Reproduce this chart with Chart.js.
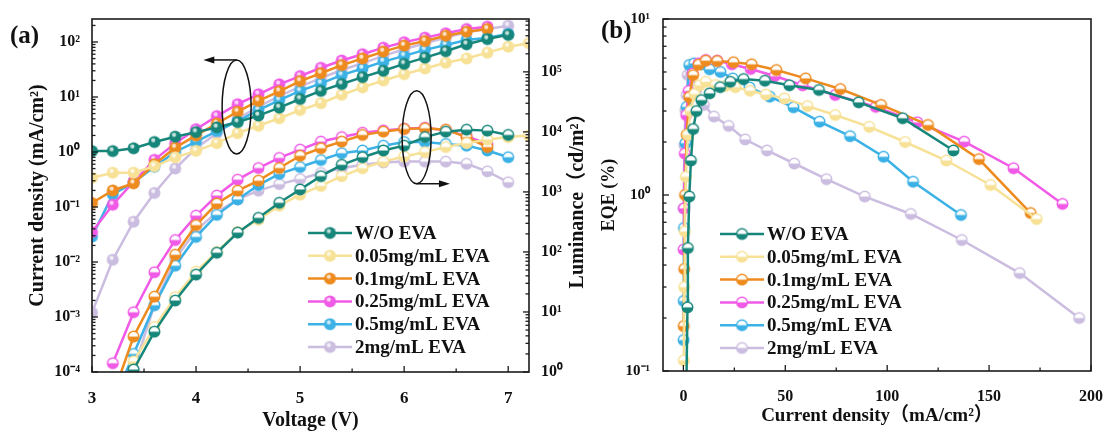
<!DOCTYPE html>
<html>
<head>
<meta charset="utf-8">
<script src="https://cdn.jsdelivr.net/npm/chart.js@4.4.0/dist/chart.umd.min.js"></script>
<style>
  html, body { margin: 0; padding: 0; background: #fff; }
  #wrap { position: relative; width: 1111px; height: 436px; overflow: hidden; }
  .panel { position: absolute; top: 0; height: 436px; }
</style>
</head>
<body>
<div id="wrap">
  <div class="panel" style="left:0;width:595px"><canvas id="ivl"></canvas></div>
  <div class="panel" style="left:595px;width:516px"><canvas id="eqe"></canvas></div>
</div>
<script>
// voltage sweep (V)
var voltage = [3.0, 3.2, 3.4, 3.6, 3.8, 4.0, 4.2, 4.4, 4.6, 4.8, 5.0, 5.2, 5.4, 5.6, 5.8, 6.0, 6.2, 6.4, 6.6, 6.8, 7.0, 7.2];
var seriesNames = ['W/O EVA', '0.05mg/mL EVA', '0.1mg/mL EVA', '0.25mg/mL EVA', '0.5mg/mL EVA', '2mg/mL EVA'];
var seriesColors = ['#17867a', '#f7e196', '#ee8b1f', '#f05ae6', '#3bb1e6', '#cbbde0'];

// x-axis tick positions (labels only on the whole numbers / multiples of 50)
var voltTicks = [3, 3.5, 4, 4.5, 5, 5.5, 6, 6.5, 7];
var eqeCurrentTicks = [0, 25, 50, 75, 100, 125, 150, 175, 200];

// current density (mA/cm2)
var jWo  = [1.04, 1.04, 1.17, 1.52, 1.9, 2.3, 2.8, 3.5, 4.6, 6.4, 9.2, 12.9, 17.2, 23, 30, 40, 52, 68, 91, 113, 135];
var j005 = [0.34, 0.42, 0.42, 0.55, 0.8, 1.05, 1.45, 2.2, 3.0, 4.1, 5.8, 7.7, 11, 15, 20, 26, 33, 42, 50, 64, 82, 95];
var j01  = [0.118, 0.2, 0.27, 0.6, 1.2, 2.0, 3.3, 5.4, 8.5, 12.7, 19.5, 27, 38, 50, 67, 86, 104, 130, 154, 172];
var j025 = [0.035, 0.11, 0.29, 0.72, 1.44, 2.6, 4.5, 7.4, 11.2, 17, 24, 34, 46, 60, 79, 99, 120, 144, 172, 190];
var j05  = [0.029, 0.17, 0.28, 0.54, 1.0, 1.55, 2.4, 3.6, 5.8, 8.8, 12.9, 17.7, 25, 33, 44, 56, 72, 88, 109, 120, 140];
var j2   = [0.0012, 0.011, 0.054, 0.18, 0.5, 1.17, 2.2, 4.0, 6.7, 10.4, 15.5, 22, 31, 41, 56, 74, 95, 120, 150, 172, 198];

// luminance (cd/m2), nothing measured at 3.0 V
var lWo  = [null, 0.1, 1.1, 4.7, 15.5, 42, 97, 210, 370, 660, 1100, 1830, 2830, 3790, 4900, 5900, 8200, 10100, 10900, 10500, 8900];
var l005 = [null, 0.15, 1.5, 5.6, 17.6, 47, 100, 215, 345, 590, 900, 1260, 1830, 2480, 3200, 3900, 4600, 5600, 6500, 7500, 8200, 8700];
var l01  = [null, 0.4, 3.9, 18, 90, 280, 640, 1050, 1540, 2500, 4000, 5350, 6900, 8900, 10100, 11200, 11500, 10900, 8200, 5600];
var l025 = [null, 1.4, 9.9, 46, 158, 403, 870, 1600, 2500, 3690, 5070, 6900, 8200, 9700, 10600, 11300, 11700, 10700, 8500, 6300];
var l05  = [null, 0.3, 2.0, 13, 59, 178, 415, 750, 1300, 2000, 2600, 3400, 4420, 4900, 5900, 6800, 6800, 6300, 5900, 4900, 3790];
var l2   = [null, 0.1, 1.1, 13, 76, 230, 460, 750, 1050, 1350, 1640, 2070, 2480, 2830, 3100, 3200, 3200, 3200, 2940, 2200, 1450];

// EQE (%) against current density (mA/cm2)
var eqeJWo  = [1.4, 2.0, 2.2, 2.9, 3.7, 4.8, 6.4, 8.8, 12.9, 18, 23, 29.5, 40, 52, 66.5, 86, 107.6, 132.5];
var eqeWo   = [0.07, 0.23, 0.5, 0.98, 1.57, 2.37, 3.0, 3.46, 3.78, 4.1, 4.4, 4.56, 4.46, 4.2, 3.95, 3.36, 2.73, 1.79];
var eqeJ005 = [0.2, 0.4, 0.7, 1.2, 2.2, 3.5, 5.5, 8, 11, 15.8, 20.6, 25.5, 32.7, 40.5, 49.6, 60.9, 74.5, 91.2, 108.8, 129, 150.7, 173.3];
var eqe005  = [0.115, 0.3, 0.62, 1.27, 2.2, 3.0, 3.75, 4.2, 4.4, 4.22, 4.16, 4.1, 3.91, 3.72, 3.54, 3.2, 2.85, 2.44, 2.0, 1.57, 1.14, 0.73];
var eqeJ01  = [0.15, 0.4, 0.8, 1.6, 2.9, 4.8, 7.5, 11, 16.6, 24.6, 33.5, 45.6, 60, 77, 97, 120, 145, 170.4];
var eqe01   = [0.18, 0.38, 1.0, 2.2, 3.6, 4.8, 5.5, 5.8, 5.77, 5.68, 5.53, 5.13, 4.6, 4.0, 3.25, 2.5, 1.6, 0.79];
var eqeJ025 = [0.1, 0.3, 0.7, 1.4, 2.6, 4.5, 7.4, 11, 16.6, 23.8, 33, 44.8, 58.5, 74.5, 94.4, 114.8, 137.8, 162, 186];
var eqe025  = [0.49, 0.84, 1.72, 2.85, 3.9, 4.9, 5.6, 5.85, 5.8, 5.53, 5.2, 4.74, 4.2, 3.7, 3.17, 2.59, 2.01, 1.42, 0.89];
var eqeJ05  = [0.1, 0.15, 0.3, 1.0, 1.6, 2.9, 5.3, 9.0, 12.9, 18.2, 24.2, 32.5, 42.4, 54, 66.8, 81.8, 98.2, 112.7, 136.2];
var eqe05   = [0.15, 0.25, 0.65, 1.97, 3.17, 5.48, 5.6, 5.53, 5.18, 5.0, 4.6, 4.09, 3.62, 3.15, 2.61, 2.16, 1.65, 1.19, 0.77];
var eqeJ2   = [0.05, 0.5, 1.0, 1.6, 2.1, 3.7, 6.4, 10.1, 15, 22.2, 30.3, 41, 54.4, 70.2, 89, 111.6, 136.6, 165, 194.2];
var eqe2    = [0.84, 1.92, 3.04, 3.7, 4.81, 5.02, 3.98, 3.25, 2.79, 2.47, 2.07, 1.79, 1.51, 1.23, 0.98, 0.78, 0.555, 0.36, 0.2];

var currentSets = [jWo, j005, j01, j025, j05, j2];
var lumSets = [lWo, l005, l01, l025, l05, l2];
var eqeXSets = [eqeJWo, eqeJ005, eqeJ01, eqeJ025, eqeJ05, eqeJ2];
var eqeYSets = [eqeWo, eqe005, eqe01, eqe025, eqe05, eqe2];

var SERIF = '"Liberation Serif", "Times New Roman", "Noto Sans CJK SC", serif';
Chart.defaults.font.family = SERIF;
Chart.defaults.font.weight = 'bold';
Chart.defaults.color = '#111';

function pairs(xs, ys) {
  var out = [];
  ys.forEach(function (y, i) { if (y != null) out.push({ x: xs[i], y: y }); });
  return out;
}

// round symbols: glossy ball, or half-filled (white top, coloured bottom)
function makeMarker(color, kind) {
  var r = 6, c = document.createElement('canvas');
  c.width = c.height = 2 * r + 3;
  var g = c.getContext('2d'), m = c.width / 2;
  if (kind === 'ball') {
    g.beginPath(); g.arc(m, m, r, 0, 2 * Math.PI); g.fillStyle = color; g.fill();
    g.beginPath(); g.arc(m - 1.2, m - 1.8, 2.1, 0, 2 * Math.PI); g.fillStyle = 'rgba(255,255,255,0.75)'; g.fill();
  } else {
    g.beginPath(); g.arc(m, m, r - 0.7, 0, 2 * Math.PI); g.fillStyle = '#fff'; g.fill();
    g.beginPath(); g.arc(m, m, r - 0.7, 0, Math.PI); g.closePath(); g.fillStyle = color; g.fill();
    g.beginPath(); g.arc(m, m, r - 0.7, 0, 2 * Math.PI); g.strokeStyle = color; g.lineWidth = 1.4; g.stroke();
  }
  return c;
}

var SUP = { '-': '⁻', '0': '⁰', '1': '¹', '2': '²', '3': '³', '4': '⁴', '5': '⁵', '6': '⁶', '7': '⁷', '8': '⁸', '9': '⁹' };
function powerLabel(v) {
  var e = Math.log10(v);
  if (Math.abs(e - Math.round(e)) > 1e-6) return '';
  return '10' + String(Math.round(e)).split('').map(function (ch) { return SUP[ch]; }).join('');
}

function near(v, step) { return Math.abs(v / step - Math.round(v / step)) < 1e-6; }

// inward ticks and the box around the plot area
var frameTicks = {
  id: 'frameTicks',
  afterDatasetsDraw: function (chart, args, opts) {
    var ctx = chart.ctx, a = chart.chartArea;
    ctx.save();
    ctx.strokeStyle = '#1b1b1b';
    ctx.lineWidth = 1.6;
    ctx.strokeRect(a.left, a.top, a.right - a.left, a.bottom - a.top);
    ctx.lineWidth = 1.3;
    Object.keys(chart.scales).forEach(function (id) {
      var s = chart.scales[id];
      s.ticks.forEach(function (t) {
        var v = t.value, kind = null;
        if (s.type === 'logarithmic') {
          var mant = v / Math.pow(10, Math.floor(Math.log10(v) + 1e-9));
          if (Math.abs(mant - 1) < 1e-6) kind = 'major';
          else if (near(mant, 1)) kind = 'minor';
        } else {
          kind = near(v, opts.major[id]) ? 'major' : 'minor';
        }
        if (!kind) return;
        var len = kind === 'major' ? 6 : 3.5, p = s.getPixelForValue(v);
        ctx.beginPath();
        if (s.position === 'bottom') { ctx.moveTo(p, a.bottom); ctx.lineTo(p, a.bottom - len); }
        else if (s.position === 'left') { ctx.moveTo(a.left, p); ctx.lineTo(a.left + len, p); }
        else { ctx.moveTo(a.right, p); ctx.lineTo(a.right - len, p); }
        ctx.stroke();
      });
    });
    ctx.restore();
  }
};

// legend drawn inside the plot area
var legendBox = {
  id: 'legendBox',
  afterDraw: function (chart, args, opts) {
    var ctx = chart.ctx, a = chart.chartArea;
    var x0 = a.left + opts.dx, y0 = a.top + opts.dy;
    ctx.save();
    ctx.font = 'bold 19px ' + SERIF;
    ctx.textBaseline = 'middle';
    ctx.fillStyle = '#111';
    chart.data.datasets.slice(0, 6).forEach(function (ds, i) {
      var y = y0 + i * 22.8;
      ctx.strokeStyle = ds.borderColor;
      ctx.lineWidth = 2.5;
      ctx.beginPath(); ctx.moveTo(x0, y); ctx.lineTo(x0 + 44, y); ctx.stroke();
      var img = ds.pointStyle;
      ctx.drawImage(img, x0 + 22 - img.width / 2, y - img.height / 2);
      ctx.fillText(ds.label, x0 + 47, y + 1);
    });
    ctx.restore();
  }
};

// ellipse + arrow pointing each curve family to its axis
var loopArrows = {
  id: 'loopArrows',
  afterDatasetsDraw: function (chart, args, opts) {
    var ctx = chart.ctx, xs = chart.scales.x;
    ctx.save();
    ctx.strokeStyle = '#111'; ctx.fillStyle = '#111'; ctx.lineWidth = 1.5;
    opts.loops.forEach(function (l) {
      var cx = xs.getPixelForValue(l.v), cy = chart.scales[l.axis].getPixelForValue(l.at);
      ctx.beginPath(); ctx.ellipse(cx, cy, l.rx, l.ry, 0, 0, 2 * Math.PI); ctx.stroke();
      var ey = l.from === 'top' ? cy - l.ry : cy + l.ry;
      var tx = xs.getPixelForValue(l.to), dir = tx < cx ? -1 : 1;
      ctx.beginPath(); ctx.moveTo(cx, ey); ctx.lineTo(tx - dir * 6, ey); ctx.stroke();
      ctx.beginPath(); ctx.moveTo(tx, ey); ctx.lineTo(tx - dir * 11, ey - 3.5); ctx.lineTo(tx - dir * 11, ey + 3.5); ctx.closePath(); ctx.fill();
    });
    ctx.restore();
  }
};

// panel tags and the upward-reading right axis title
var extraText = {
  id: 'extraText',
  afterDraw: function (chart, args, opts) {
    var ctx = chart.ctx;
    ctx.save();
    ctx.fillStyle = '#111';
    opts.items.forEach(function (it) {
      ctx.save();
      ctx.font = 'bold ' + it.size + 'px ' + SERIF;
      ctx.textAlign = it.align || 'left';
      ctx.textBaseline = it.baseline || 'alphabetic';
      ctx.translate(it.x, it.y);
      if (it.rot) ctx.rotate(it.rot);
      ctx.fillText(it.text, 0, 0);
      ctx.restore();
    });
    ctx.restore();
  }
};

var leftSets = [];
seriesNames.forEach(function (name, i) {
  leftSets.push({
    label: name, yAxisID: 'y', data: pairs(voltage, currentSets[i]),
    borderColor: seriesColors[i], borderWidth: 2.5, pointStyle: makeMarker(seriesColors[i], 'ball'), clip: 0
  });
});
seriesNames.forEach(function (name, i) {
  leftSets.push({
    label: name, yAxisID: 'y2', data: pairs(voltage, lumSets[i]),
    borderColor: seriesColors[i], borderWidth: 2.5, pointStyle: makeMarker(seriesColors[i], 'half'), clip: 0
  });
});

var rightSets = seriesNames.map(function (name, i) {
  return {
    label: name, data: pairs(eqeXSets[i], eqeYSets[i]),
    borderColor: seriesColors[i], borderWidth: 2.5, pointStyle: makeMarker(seriesColors[i], 'half'), clip: 0
  };
});

function logAxis(pos, min, max, pad, size, fitWidth, title) {
  var ax = {
    type: 'logarithmic', position: pos, min: min, max: max,
    grid: { display: false }, border: { display: false },
    ticks: { autoSkip: false, padding: pad, font: { size: size, weight: 'bold' }, callback: function (v) { return powerLabel(v); } },
    afterFit: function (s) { s.width = fitWidth; }
  };
  if (title) ax.title = title;
  return ax;
}

function linAxis(min, max, tickValues, labelStep, size, fitHeight, title) {
  return {
    type: 'linear', position: 'bottom', min: min, max: max,
    grid: { display: false }, border: { display: false },
    ticks: { autoSkip: false, maxRotation: 0, padding: 8, font: { size: size, weight: 'bold' },
      callback: function (v) { return near(v, labelStep) ? String(Math.round(v)) : ''; } },
    afterBuildTicks: function (s) { s.ticks = tickValues.map(function (v) { return { value: v }; }); },
    title: title,
    afterFit: function (s) { s.height = fitHeight; }
  };
}

new Chart(document.getElementById('ivl'), {
  type: 'line',
  data: { datasets: leftSets },
  options: {
    responsive: true, maintainAspectRatio: false, animation: false, events: [], devicePixelRatio: 1,
    layout: { padding: { top: 19, left: 0, right: 0, bottom: 0 } },
    elements: { line: { tension: 0 } },
    plugins: {
      legend: { display: false }, tooltip: { enabled: false },
      frameTicks: { major: { x: 1 } },
      legendBox: { dx: 216, dy: 214 },
      loopArrows: { loops: [
        { v: 4.39, at: 6.6, axis: 'y', rx: 14.5, ry: 47, from: 'top', to: 4.07 },
        { v: 6.12, at: 8150, axis: 'y2', rx: 14.5, ry: 46.5, from: 'bottom', to: 6.44 }
      ] },
      extraText: { items: [
        { text: '(a)', x: 10, y: 43, size: 25 },
        { text: 'Luminance（cd/m²）', x: 578, y: 196, size: 20, rot: -Math.PI / 2, align: 'center', baseline: 'middle' }
      ] }
    },
    scales: {
      x: linAxis(3, 7.2, voltTicks, 1, 17, 64,
        { display: true, text: 'Voltage (V)', font: { size: 20, weight: 'bold' }, padding: { top: 0, bottom: 3 } }),
      y: logAxis('left', 1e-4, 262, 4, 16, 92,
        { display: true, text: 'Current density (mA/cm²)', font: { size: 20, weight: 'bold' }, padding: { top: 26, bottom: 0 } }),
      y2: logAxis('right', 1, 7.6e5, 4, 16, 66, null)
    }
  },
  plugins: [frameTicks, loopArrows, legendBox, extraText]
});

new Chart(document.getElementById('eqe'), {
  type: 'line',
  data: { datasets: rightSets },
  options: {
    responsive: true, maintainAspectRatio: false, animation: false, events: [], devicePixelRatio: 1,
    layout: { padding: { top: 19, left: 0, right: 13, bottom: 0 } },
    elements: { line: { tension: 0 } },
    plugins: {
      legend: { display: false }, tooltip: { enabled: false },
      frameTicks: { major: { x: 50 } },
      legendBox: { dx: 57, dy: 215 },
      extraText: { items: [ { text: '(b)', x: 6, y: 38, size: 25 } ] }
    },
    scales: {
      x: linAxis(-10, 200, eqeCurrentTicks, 50, 16, 65,
        { display: true, text: 'Current density（mA/cm²）', font: { size: 19, weight: 'bold' }, padding: { top: 0, bottom: 9 } }),
      y: logAxis('left', 0.1, 10, 5, 15, 68,
        { display: true, text: 'EQE (%)', font: { size: 18, weight: 'bold' }, padding: { top: 4, bottom: 0 } })
    }
  },
  plugins: [frameTicks, legendBox, extraText]
});
</script>
</body>
</html>
